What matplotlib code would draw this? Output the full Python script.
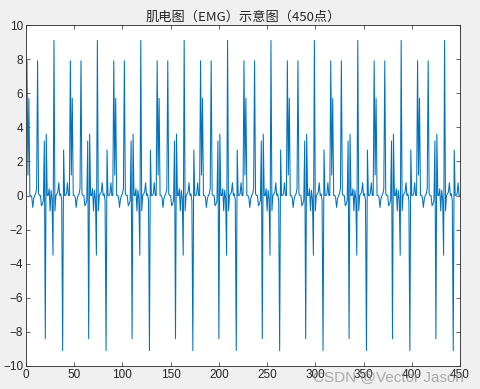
import numpy as np
import matplotlib.pyplot as plt

plt.rcParams['font.family'] = ['Liberation Sans', 'Noto Sans CJK SC', 'DejaVu Sans']

# one 45-sample beat, starting at sample 1
# (the trace repeats every 45 samples, 10 times over 450 points)
beat = [7.9, 1.2, 5.7, 0.0, 0.0, -0.1, -0.7, -0.2, 0.0, 0.1,
        0.4, 7.9, 0.1, 0.0, 0.0, -0.6, -0.5, -0.3, 3.2, -8.4,
        3.6, 0.0, 0.0, 0.4, -0.9, 0.3, -0.2, -3.5, 9.1, -0.9,
        0.0, 0.1, 0.2, 0.75, 0.0, 0.1, -0.3, -9.1, 2.67, 0.0,
        0.0, 0.1, 0.75, 0.0, 0.0]
n_beats = 10
emg = np.array(beat * n_beats)
samples = np.arange(1, len(emg) + 1)

title = "肌电图（EMG）示意图（450点）"
x_ticks = list(range(0, 451, 50))
y_ticks = list(range(-10, 11, 2))

fig = plt.figure(figsize=(4.81, 3.89), dpi=100, facecolor="#f0f0f0")
ax = fig.add_axes([26 / 481, 23 / 389, 434 / 481, 341 / 389])
ax.set_facecolor("white")
ax.plot(samples, emg, color="#0072BD", linewidth=0.75)

ax.set_xlim(0, 450)
ax.set_ylim(-10, 10)
ax.set_xticks(x_ticks)
ax.set_yticks(y_ticks)
ax.tick_params(direction="in", length=3, width=0.5, colors="#262626",
               labelsize=8.5, top=True, right=True, pad=2)
for s in ax.spines.values():
    s.set_linewidth(0.6)
    s.set_color("#262626")
ax.set_title(title, fontsize=9.5, color="#262626", pad=3,
             family=['Noto Sans CJK SC', 'DejaVu Sans'])

fig.text(0.965, 0.032, "CSDN @Vector Jason", ha="right", va="center",
         fontsize=11, color="#8c8c8c", alpha=0.7)

fig.savefig("out.png", dpi=100, facecolor=fig.get_facecolor())
